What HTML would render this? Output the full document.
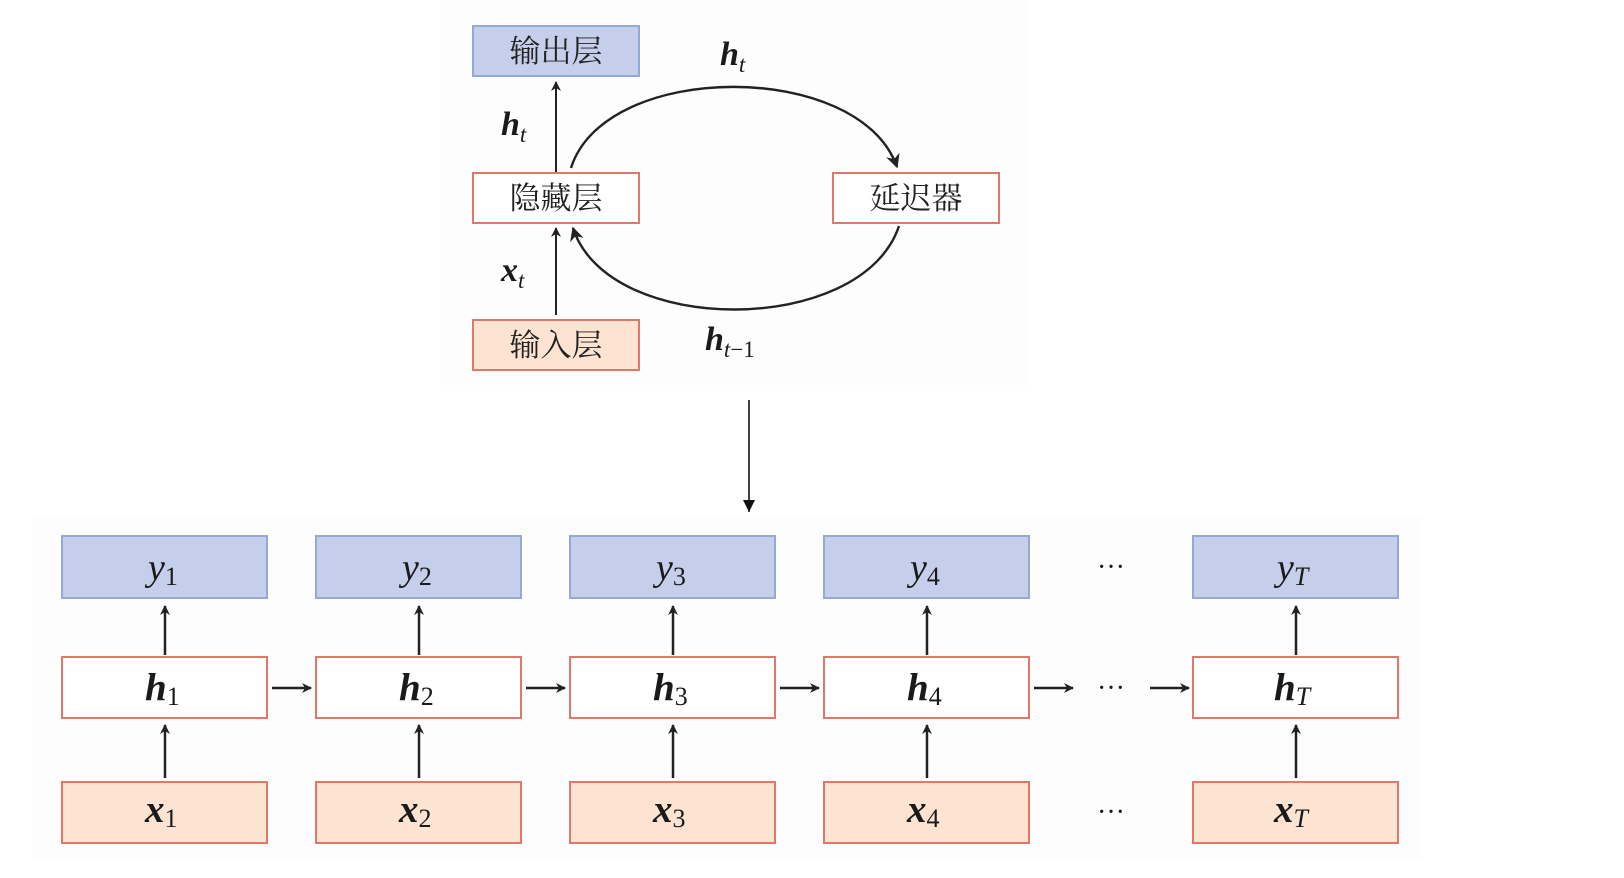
<!DOCTYPE html>
<html><head><meta charset="utf-8"><style>
html,body{margin:0;padding:0;background:#fff;}
svg{display:block}
.cn{font-family:"Liberation Serif","Noto Serif CJK SC","Noto Sans CJK SC",serif;font-size:31px;fill:#222}
.m{font-family:"Liberation Serif",serif;fill:#1a1a1a}
</style></head><body>
<svg width="1624" height="878" viewBox="0 0 1624 878" xmlns="http://www.w3.org/2000/svg">
<defs>
<marker id="a" viewBox="0 0 10 10" refX="9" refY="5" markerWidth="10" markerHeight="10" markerUnits="userSpaceOnUse" orient="auto">
<path d="M0,0 L10,5 L0,10 L3,5 z" fill="#222"/></marker>
<marker id="b" viewBox="0 0 10 10" refX="9" refY="5" markerWidth="14" markerHeight="14" markerUnits="userSpaceOnUse" orient="auto">
<path d="M0,0 L10,5 L0,10 L3,5 z" fill="#222"/></marker>
<marker id="c" viewBox="0 0 10 10" refX="10" refY="5" markerWidth="12" markerHeight="14" markerUnits="userSpaceOnUse" orient="auto">
<path d="M0,0 L10,5 L0,10 z" fill="#111"/></marker>
</defs>
<rect x="440" y="0" width="590" height="385" fill="#fdfdfd"/>
<rect x="32" y="515" width="1390" height="345" fill="#fdfdfd"/>
<!-- top diagram -->
<rect x="473" y="26" width="166" height="50" fill="#c5cfeb" stroke="#94a9d3" stroke-width="2"/>
<text class="cn" x="556" y="62" text-anchor="middle">输出层</text>
<rect x="473" y="173" width="166" height="50" fill="#fff" stroke="#e0786a" stroke-width="2"/>
<text class="cn" x="556" y="209" text-anchor="middle">隐藏层</text>
<rect x="833" y="173" width="166" height="50" fill="#fff" stroke="#e0786a" stroke-width="2"/>
<text class="cn" x="916" y="209" text-anchor="middle">延迟器</text>
<rect x="473" y="320" width="166" height="50" fill="#fce3d2" stroke="#e0786a" stroke-width="2"/>
<text class="cn" x="556" y="356" text-anchor="middle">输入层</text>
<line x1="556" y1="172" x2="556" y2="82" stroke="#222" stroke-width="2" marker-end="url(#a)"/>
<line x1="556" y1="315" x2="556" y2="228" stroke="#222" stroke-width="2" marker-end="url(#a)"/>
<path d="M571,168 C605,60 860,60 897,167" fill="none" stroke="#222" stroke-width="2.4" marker-end="url(#b)"/>
<path d="M899,226 C862,337 608,337 573,228" fill="none" stroke="#222" stroke-width="2.4" marker-end="url(#b)"/>
<text class="m" x="720" y="65" font-size="34" font-weight="bold" font-style="italic">h<tspan font-size="23" font-weight="normal" dy="7">t</tspan></text>
<text class="m" x="501" y="135" font-size="34" font-weight="bold" font-style="italic">h<tspan font-size="23" font-weight="normal" dy="7">t</tspan></text>
<text class="m" x="501" y="281" font-size="34" font-weight="bold" font-style="italic">x<tspan font-size="23" font-weight="normal" dy="7">t</tspan></text>
<text class="m" x="705" y="350" font-size="34" font-weight="bold" font-style="italic">h<tspan font-size="23" font-weight="normal" dy="7">t</tspan><tspan font-size="23" font-weight="normal" font-style="normal">−1</tspan></text>
<line x1="749" y1="400" x2="749" y2="512" stroke="#111" stroke-width="1.6" marker-end="url(#c)"/>
<!-- bottom -->
<g>
<rect x="62" y="536" width="205" height="62" fill="#c5cfeb" stroke="#94a9d3" stroke-width="2"/>
<rect x="62" y="657" width="205" height="61" fill="#fff" stroke="#e0786a" stroke-width="2"/>
<rect x="62" y="782" width="205" height="61" fill="#fce3d2" stroke="#e0786a" stroke-width="2"/>
<rect x="316" y="536" width="205" height="62" fill="#c5cfeb" stroke="#94a9d3" stroke-width="2"/>
<rect x="316" y="657" width="205" height="61" fill="#fff" stroke="#e0786a" stroke-width="2"/>
<rect x="316" y="782" width="205" height="61" fill="#fce3d2" stroke="#e0786a" stroke-width="2"/>
<rect x="570" y="536" width="205" height="62" fill="#c5cfeb" stroke="#94a9d3" stroke-width="2"/>
<rect x="570" y="657" width="205" height="61" fill="#fff" stroke="#e0786a" stroke-width="2"/>
<rect x="570" y="782" width="205" height="61" fill="#fce3d2" stroke="#e0786a" stroke-width="2"/>
<rect x="824" y="536" width="205" height="62" fill="#c5cfeb" stroke="#94a9d3" stroke-width="2"/>
<rect x="824" y="657" width="205" height="61" fill="#fff" stroke="#e0786a" stroke-width="2"/>
<rect x="824" y="782" width="205" height="61" fill="#fce3d2" stroke="#e0786a" stroke-width="2"/>
<rect x="1193" y="536" width="205" height="62" fill="#c5cfeb" stroke="#94a9d3" stroke-width="2"/>
<rect x="1193" y="657" width="205" height="61" fill="#fff" stroke="#e0786a" stroke-width="2"/>
<rect x="1193" y="782" width="205" height="61" fill="#fce3d2" stroke="#e0786a" stroke-width="2"/>
</g>
<g stroke="#222" stroke-width="2.5">
<line x1="165" y1="655" x2="165" y2="606" marker-end="url(#a)"/><line x1="165" y1="778" x2="165" y2="725" marker-end="url(#a)"/>
<line x1="419" y1="655" x2="419" y2="606" marker-end="url(#a)"/><line x1="419" y1="778" x2="419" y2="725" marker-end="url(#a)"/>
<line x1="673" y1="655" x2="673" y2="606" marker-end="url(#a)"/><line x1="673" y1="778" x2="673" y2="725" marker-end="url(#a)"/>
<line x1="927" y1="655" x2="927" y2="606" marker-end="url(#a)"/><line x1="927" y1="778" x2="927" y2="725" marker-end="url(#a)"/>
<line x1="1296" y1="655" x2="1296" y2="606" marker-end="url(#a)"/><line x1="1296" y1="778" x2="1296" y2="725" marker-end="url(#a)"/>
<line x1="272" y1="688" x2="311" y2="688" marker-end="url(#a)"/>
<line x1="526" y1="688" x2="565" y2="688" marker-end="url(#a)"/>
<line x1="780" y1="688" x2="819" y2="688" marker-end="url(#a)"/>
<line x1="1034" y1="688" x2="1073" y2="688" marker-end="url(#a)"/>
<line x1="1150" y1="688" x2="1189" y2="688" marker-end="url(#a)"/>
</g>
<g class="m" text-anchor="middle" font-size="28">
<text x="1111" y="576">···</text><text x="1111" y="697">···</text><text x="1111" y="821">···</text>
</g>
<g class="m" font-size="38" font-style="italic">
<text x="148" y="580">y<tspan font-size="26" font-style="normal" dy="5">1</tspan></text>
<text x="402" y="580">y<tspan font-size="26" font-style="normal" dy="5">2</tspan></text>
<text x="656" y="580">y<tspan font-size="26" font-style="normal" dy="5">3</tspan></text>
<text x="910" y="580">y<tspan font-size="26" font-style="normal" dy="5">4</tspan></text>
<text x="1277" y="580">y<tspan font-size="26" dy="5">T</tspan></text>
</g>
<g class="m" font-size="39" font-style="italic" font-weight="bold">
<text x="145" y="700">h<tspan font-size="26" font-style="normal" font-weight="normal" dy="5">1</tspan></text>
<text x="399" y="700">h<tspan font-size="26" font-style="normal" font-weight="normal" dy="5">2</tspan></text>
<text x="653" y="700">h<tspan font-size="26" font-style="normal" font-weight="normal" dy="5">3</tspan></text>
<text x="907" y="700">h<tspan font-size="26" font-style="normal" font-weight="normal" dy="5">4</tspan></text>
<text x="1274" y="700">h<tspan font-size="26" font-weight="normal" dy="5">T</tspan></text>
<text x="145" y="822">x<tspan font-size="26" font-style="normal" font-weight="normal" dy="5">1</tspan></text>
<text x="399" y="822">x<tspan font-size="26" font-style="normal" font-weight="normal" dy="5">2</tspan></text>
<text x="653" y="822">x<tspan font-size="26" font-style="normal" font-weight="normal" dy="5">3</tspan></text>
<text x="907" y="822">x<tspan font-size="26" font-style="normal" font-weight="normal" dy="5">4</tspan></text>
<text x="1274" y="822">x<tspan font-size="26" font-weight="normal" dy="5">T</tspan></text>
</g>
</svg>
</body></html>
